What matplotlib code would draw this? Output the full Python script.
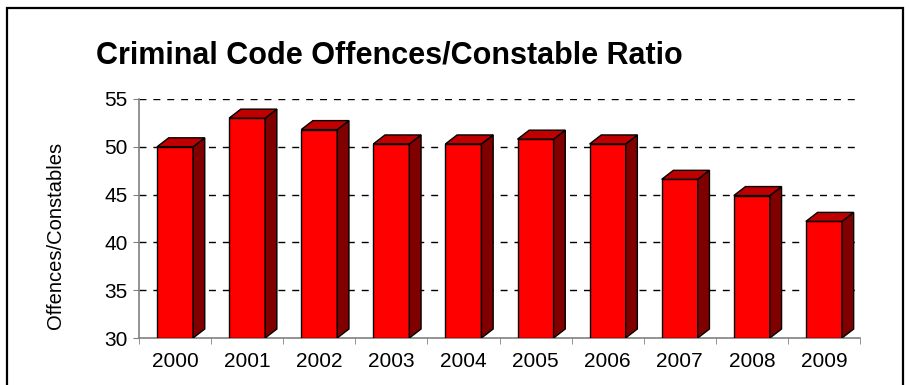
import matplotlib
matplotlib.use("Agg")
import matplotlib.pyplot as plt
from matplotlib.patches import Polygon, Rectangle

# data
years = ['2000', '2001', '2002', '2003', '2004', '2005', '2006', '2007', '2008', '2009']
ratio = [50.0, 53.0, 51.8, 50.3, 50.3, 50.8, 50.3, 46.6, 44.9, 42.2]
y_ticks = [30, 35, 40, 45, 50, 55]

plt.rcParams['font.family'] = ['Liberation Sans', 'DejaVu Sans']

fig = plt.figure(figsize=(9.09, 3.85), dpi=100)
ax = fig.add_axes([139/909, 1-338/385, (860-139)/909, (338-99)/385])

# fake 3d look like the old excel charts
bw = 0.5       # front face width (category units)
dx = 0.162     # depth to the right (category units)
dy = 0.94      # depth upward (value units)
base = 30

x = list(range(len(years)))
ax.bar(x, [v - base for v in ratio], bottom=base, width=bw, color='#FF0000',
       edgecolor='black', linewidth=1.0, zorder=3)
for xi, v in zip(x, ratio):
    l, r = xi - bw/2, xi + bw/2
    side = Polygon([(r, base), (r + dx, base + dy), (r + dx, v + dy), (r, v)],
                   closed=True, facecolor='#800000', edgecolor='black', lw=1.0, zorder=3)
    top = Polygon([(l, v), (r, v), (r + dx, v + dy), (l + dx, v + dy)],
                  closed=True, facecolor='#C00000', edgecolor='black', lw=1.0, zorder=3)
    ax.add_patch(side)
    ax.add_patch(top)

ax.set_xlim(-0.5, len(years) - 0.5)
ax.set_ylim(30, 55)
ax.set_yticks(y_ticks)
ax.set_xticks(x)
ax.set_xticklabels(years)
ax.set_xticks([i - 0.5 for i in range(len(years) + 1)], minor=True)
ax.tick_params(axis='x', which='major', length=0, pad=10, labelsize=15)
ax.tick_params(axis='x', which='minor', length=4, color='#808080', direction='out')
ax.tick_params(axis='y', length=4, color='#808080', pad=4, labelsize=15)

for g in y_ticks[1:]:
    ax.axhline(g, color='black', lw=1.0, ls=(0, (5, 5)), zorder=1)

for s in ['top', 'right']:
    ax.spines[s].set_visible(False)
ax.spines['left'].set_color('#808080')
ax.spines['bottom'].set_color('#808080')
ax.spines['left'].set_linewidth(1.2)
ax.spines['bottom'].set_linewidth(1.2)

fig.text(56/909, 1-235/385, 'Offences/Constables', rotation=90, ha='center', va='center', fontsize=14.5)
fig.text(96/909, 1-64/385, 'Criminal Code Offences/Constable Ratio', ha='left', va='baseline',
         fontsize=22, fontweight='bold')

# outer frame (bottom edge falls off the picture)
fig.patches.append(Rectangle((7/909, -0.05), (903-7)/909, 1.05 - 8/385, transform=fig.transFigure,
                             fill=False, edgecolor='black', lw=1.6))

fig.savefig('out.png', dpi=100)
